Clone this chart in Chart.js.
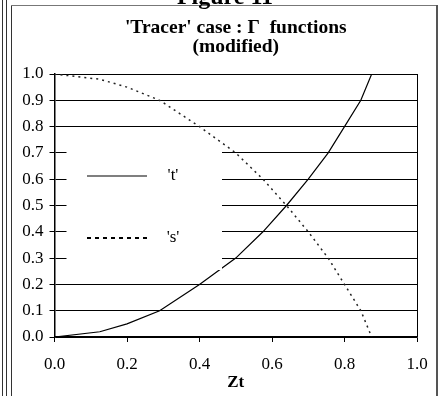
<!DOCTYPE html>
<html>
<head>
<meta charset="utf-8">
<script src="https://cdn.jsdelivr.net/npm/chart.js@4"></script>
<style>
html,body{margin:0;padding:0;background:#fff;}
canvas{display:block;}
</style>
</head>
<body>
<canvas id="c" width="441" height="396"></canvas>
<script>
// Data
const zt      = [0, 0.125, 0.2, 0.29, 0.4, 0.5, 0.575, 0.64, 0.7, 0.755, 0.8, 0.845, 0.875];
const tValues = [0, 0.02, 0.05, 0.1, 0.2, 0.3, 0.4, 0.5, 0.6, 0.7, 0.8, 0.9, 1.0];
const sValues = [1.0, 0.98, 0.95, 0.9, 0.8, 0.7, 0.6, 0.5, 0.4, 0.3, 0.2, 0.1, 0.0];
const xTicks  = [0, 0.2, 0.4, 0.6, 0.8, 1.0];
const yTicks  = [0, 0.1, 0.2, 0.3, 0.4, 0.5, 0.6, 0.7, 0.8, 0.9, 1.0];
const seriesNames = ["'t'", "'s'"];

const SERIF = "'Liberation Serif', 'Times New Roman', serif";

const framePlugin = {
  id: 'frame',
  beforeDraw(chart) {
    const ctx = chart.ctx;
    ctx.save();
    ctx.fillStyle = '#fff';
    ctx.fillRect(0, 0, chart.width, chart.height);
    ctx.strokeStyle = '#333';
    ctx.lineWidth = 1;
    ctx.beginPath();
    ctx.moveTo(2.5, 0); ctx.lineTo(2.5, 396);
    ctx.moveTo(6.5, 0); ctx.lineTo(6.5, 396);
    ctx.moveTo(11.5, 5); ctx.lineTo(11.5, 396);
    ctx.stroke();
    ctx.strokeStyle = '#777';
    ctx.beginPath();
    ctx.moveTo(11, 5.5); ctx.lineTo(437, 5.5);
    ctx.stroke();
    ctx.strokeStyle = '#555';
    ctx.lineWidth = 2;
    ctx.beginPath();
    ctx.moveTo(437, 5); ctx.lineTo(437, 396);
    ctx.stroke();
    ctx.fillStyle = '#000';
    ctx.font = "bold 24px " + SERIF;
    ctx.textAlign = 'center';
    ctx.textBaseline = 'alphabetic';
    ctx.fillText('Figure 11', 225, 4);
    ctx.restore();
  },
  afterDraw(chart) {
    const ctx = chart.ctx;
    const a = chart.chartArea;
    ctx.save();
    ctx.strokeStyle = '#000';
    ctx.lineWidth = 1;
    ctx.beginPath();
    ctx.moveTo(Math.round(a.right) + 0.5, a.top);
    ctx.lineTo(Math.round(a.right) + 0.5, a.bottom);
    ctx.stroke();
    ctx.restore();
  }
};

const legendPlugin = {
  id: 'boxLegend',
  afterDatasetsDraw(chart) {
    const ctx = chart.ctx;
    const xs = chart.scales.x;
    ctx.save();
    ctx.fillStyle = '#fff';
    const bx = xs.left + 12, by = 150, bx2 = 222, by2 = 270;
    ctx.fillRect(bx, by, bx2 - bx, by2 - by);
    const items = [
      {y: 176, ds: chart.data.datasets[0], dash: [], w: 1.2},
      {y: 238, ds: chart.data.datasets[1], dash: [4, 4], w: 2}
    ];
    items.forEach(it => {
      ctx.strokeStyle = '#000';
      ctx.lineWidth = it.w;
      ctx.setLineDash(it.dash);
      ctx.beginPath();
      ctx.moveTo(87, it.y);
      ctx.lineTo(147, it.y);
      ctx.stroke();
      ctx.setLineDash([]);
      ctx.fillStyle = '#000';
      ctx.font = "17px " + SERIF;
      ctx.textAlign = 'center';
      ctx.textBaseline = 'middle';
      ctx.fillText(it.ds.label, 173, it.y);
    });
    ctx.restore();
  }
};

const tData = zt.map((x, i) => ({x: x, y: tValues[i]}));
const sData = zt.map((x, i) => ({x: x, y: sValues[i]}));

new Chart(document.getElementById('c'), {
  type: 'line',
  data: {
    datasets: [
      {label: seriesNames[0], data: tData, borderColor: '#000', borderWidth: 1.2,
       pointRadius: 0, tension: 0, fill: false},
      {label: seriesNames[1], data: sData, borderColor: '#222', borderWidth: 1.5,
       borderDash: [2, 4], pointRadius: 0, tension: 0, fill: false}
    ]
  },
  options: {
    responsive: false,
    animation: false,
    devicePixelRatio: 1,
    layout: {padding: {left: 0, top: 0, right: 24, bottom: 0}},
    plugins: {
      legend: {display: false},
      tooltip: {enabled: false},
      title: {
        display: true,
        fullSize: false,
        text: ["'Tracer' case : \u0393  functions", '(modified)'],
        color: '#000',
        font: {family: SERIF, size: 19.5, weight: 'bold', lineHeight: '19px'},
        padding: {top: 18.5, bottom: 17.5}
      }
    },
    scales: {
      x: {
        type: 'linear',
        min: 0, max: 1,
        afterBuildTicks: (s) => { s.ticks = xTicks.map(v => ({value: v})); },
        afterFit: (s) => { s.height = 59; },
        ticks: {
          color: '#000',
          font: {family: SERIF, size: 17},
          padding: 12,
          maxRotation: 0,
          callback: (v) => Number(v).toFixed(1)
        },
        grid: {display: true, drawOnChartArea: false, drawTicks: true, tickLength: 5, color: '#000'},
        border: {display: true, color: '#000', width: 1.5},
        title: {
          display: true, text: 'Zt', color: '#000',
          font: {family: SERIF, size: 17, weight: 'bold'},
          padding: {top: 0, bottom: 3}
        }
      },
      y: {
        type: 'linear',
        min: 0, max: 1,
        afterBuildTicks: (s) => { s.ticks = yTicks.map(v => ({value: v})); },
        afterFit: (s) => { s.width = 54.5; },
        ticks: {
          color: '#000',
          font: {family: SERIF, size: 17},
          padding: 6,
          callback: (v) => Number(v).toFixed(1)
        },
        grid: {display: true, drawOnChartArea: true, drawTicks: true, tickLength: 5, color: '#000', lineWidth: 1},
        border: {display: true, color: '#000', width: 1.5}
      }
    }
  },
  plugins: [framePlugin, legendPlugin]
});
</script>
</body>
</html>
